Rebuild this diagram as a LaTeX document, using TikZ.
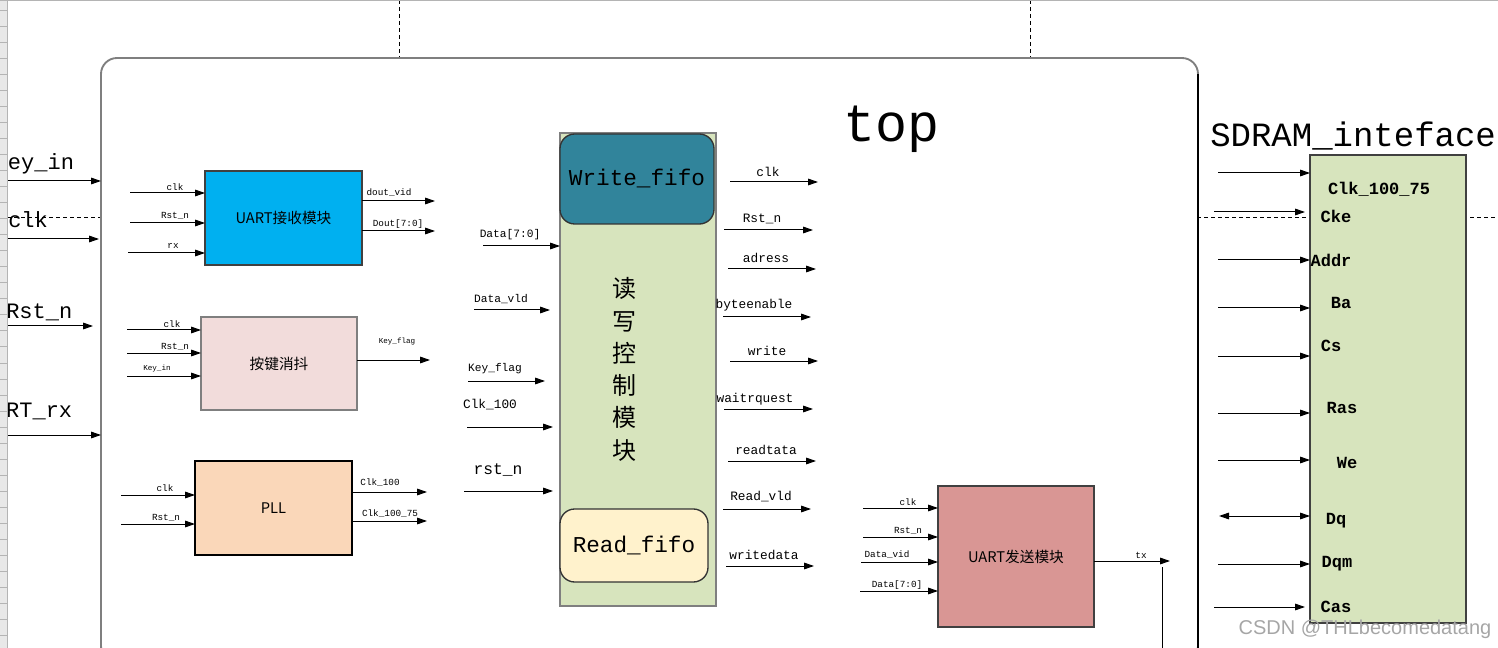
\documentclass[tikz,border=0pt]{standalone}
\usepackage{xcolor}
\usepackage{tikz}
\usepackage{fontspec}
\setmainfont{Liberation Serif}
\setmonofont{Liberation Mono}
\newfontfamily\cjk{Noto Sans CJK SC}
\newfontfamily\wmfont{Liberation Sans}
\usetikzlibrary{
  arrows.meta,
  positioning,
  calc
}
\definecolor{sdRx}{HTML}{00B0F0}
\definecolor{sdKey}{HTML}{F2DCDB}
\definecolor{sdPll}{HTML}{FAD7B9}
\definecolor{sdCtrl}{HTML}{D7E4BD}
\definecolor{sdWfifo}{HTML}{31849B}
\definecolor{sdRfifo}{HTML}{FFF2CC}
\definecolor{sdTx}{HTML}{D99694}
\definecolor{sdEdge}{HTML}{404040}
\definecolor{sdFrame}{HTML}{7F7F7F}
\definecolor{sdStrip}{HTML}{E8E8E8}
\definecolor{sdStripLine}{HTML}{B4B4B4}
\definecolor{sdMark}{HTML}{A6A6A6}
\tikzset{
  sdnode/.style={
    draw, inner sep=0pt, outer sep=0pt, line width=1pt
  },
  sdblock/.style={sdnode, draw=sdEdge, minimum width=117.75pt, minimum height=70.5pt,
    font=\cjk\fontsize{11}{13}\selectfont},
  fifobox/.style={sdnode, draw=black!80, rounded corners=11pt,
    font=\ttfamily\fontsize{17}{19}\selectfont},
  topframe/.style={sdnode, draw=sdFrame, fill=white, line width=1.4pt, rounded corners=12pt},
  toptitle/.style={inner sep=0pt, font=\ttfamily\fontsize{40}{44}\selectfont},
  sdtitle/.style={inner sep=0pt, font=\ttfamily\fontsize{25.5}{28}\selectfont},
  vlbl/.style={inner sep=0pt, align=center, font=\cjk\fontsize{18}{24.2}\selectfont},
  sig/.style={-{Triangle[length=7.5pt,width=5pt]}, line width=0.75pt},
  bisig/.style={{Triangle[length=7.5pt,width=5pt]}-{Triangle[length=7.5pt,width=5pt]}, line width=0.75pt},
  wire/.style={line width=0.75pt},
  guide/.style={dash pattern=on 3pt off 2.25pt, line width=0.6pt},
  portlbl/.style={inner sep=0pt, anchor=base west, font=\ttfamily\fontsize{16.5}{18}\selectfont},
  pinlbl/.style={inner sep=0pt, font=\ttfamily\fontsize{7}{8}\selectfont},
  tinylbl/.style={inner sep=0pt, font=\ttfamily\fontsize{5.7}{7}\selectfont},
  midlbl/.style={inner sep=0pt, font=\ttfamily\fontsize{8.4}{10}\selectfont},
  buslbl/.style={inner sep=0pt, font=\ttfamily\fontsize{9.6}{11}\selectfont},
  biglbl/.style={inner sep=0pt, font=\ttfamily\fontsize{12.2}{14}\selectfont},
  sdlbl/.style={inner sep=0pt, font=\ttfamily\bfseries\fontsize{12.75}{14}\selectfont},
  wmark/.style={inner sep=0pt, text=sdMark, font=\wmfont\fontsize{15}{17}\selectfont}
}

\begin{document}
\begin{tikzpicture}[x=0.75pt, y=-0.75pt]
  \useasboundingbox (0,0) rectangle (1498,648);
  \clip (0,0) rectangle (1498,648);

  % sheet guides behind the frame
  \draw[guide] (399,0) -- (399,648); \draw[guide] (1030,0) -- (1030,648);
  \draw[guide] (0,217) -- (1498,217);

  % top level frame
  \node[topframe, anchor=north west, minimum width=822.75pt, minimum height=453pt] (top) at (101,58) {};
  \draw[line width=0.9pt] (top.north east) ++(0,16) -- (top.south east);
  \node[toptitle] (toplbl) at (891,129) {top};
  \node[sdtitle, anchor=base west] (sdtitle) at (1210,147) {SDRAM\_inteface};

  % top level ports
  \coordinate (kin0) at (0,181); \draw[sig] (kin0) -- (kin0 -| top.west);
  \coordinate (pclk0) at (0,239); \coordinate (pclk1) at (99,239); \draw[sig] (pclk0) -- (pclk1);
  \coordinate (prst0) at (0,326); \coordinate (prst1) at (93,326); \draw[sig] (prst0) -- (prst1);
  \coordinate (prx0) at (0,435); \draw[sig] (prx0) -- (prx0 -| top.west);
  \node[portlbl] (kinL) at (-5.5,170) {Key\_in};
  \node[portlbl] (pclkL) at (8,228) {clk};
  \node[portlbl] (prstL) at (6,319) {Rst\_n};
  \node[portlbl] (prxL) at (-20.5,417) {UART\_rx};

  % blocks
  \node[sdblock, fill=sdRx] (urx) at (283.5,218) {UART接收模块};
  \node[sdblock, fill=sdKey, draw=sdFrame, minimum width=117pt, minimum height=69.75pt] (deb) at (279,363.5) {按键消抖};
  \node[sdblock, fill=sdPll, draw=black] (pll) at (273.5,508) {PLL};
  \node[sdblock, fill=sdCtrl, draw=sdFrame, minimum width=117pt, minimum height=354.75pt] (ctrl) at (638,369.5) {};
  \node[fifobox, fill=sdWfifo, minimum width=115.5pt, minimum height=67.5pt] (wfifo) at (637,179) {Write\_fifo};
  \node[fifobox, fill=sdRfifo, minimum width=111pt, minimum height=54.75pt] (rfifo) at (634,545.5) {Read\_fifo};
  \node[vlbl] (ctrlL) at (624,369.5) {读\\写\\控\\制\\模\\块};
  \node[sdblock, fill=sdTx, minimum width=117pt, minimum height=105.75pt] (utx) at (1016,556.5) {UART发送模块};
  \node[sdblock, fill=sdCtrl, minimum width=117pt, minimum height=351pt] (sdram) at (1388,389) {};

  % UART receive
  \coordinate (rxclk) at (130,193); \draw[sig] (rxclk) -- (rxclk -| urx.west) node[pinlbl] (rxclkL) at (175,187) {clk};
  \coordinate (rxrst) at (130,223); \draw[sig] (rxrst) -- (rxrst -| urx.west) node[pinlbl] (rxrstL) at (175,216) {Rst\_n};
  \coordinate (rxrx) at (128,253); \draw[sig] (rxrx) -- (rxrx -| urx.west) node[pinlbl] (rxrxL) at (173,246) {rx};
  \coordinate (rxvld) at (435,201); \draw[sig] (rxvld -| urx.east) -- (rxvld) node[pinlbl] (rxvldL) at (389,193) {dout\_vid};
  \coordinate (rxdat) at (435,231); \draw[sig] (rxdat -| urx.east) -- (rxdat) node[pinlbl] (rxdatL) at (398,224) {Dout[7:0]};

  % key debounce
  \coordinate (dbclk) at (127,330); \draw[sig] (dbclk) -- (dbclk -| deb.west) node[pinlbl] (dbclkL) at (172,324) {clk};
  \coordinate (dbrst) at (127,353); \draw[sig] (dbrst) -- (dbrst -| deb.west) node[pinlbl] (dbrstL) at (175,347) {Rst\_n};
  \coordinate (dbkey) at (127,376); \draw[sig] (dbkey) -- (dbkey -| deb.west) node[tinylbl] (dbkeyL) at (157,369) {Key\_in};
  \coordinate (dbflag) at (430,360); \draw[sig] (dbflag -| deb.east) -- (dbflag) node[tinylbl] (dbflagL) at (397,342) {Key\_flag};

  % PLL
  \coordinate (plclk) at (121,495); \draw[sig] (plclk) -- (plclk -| pll.west) node[pinlbl] (plclkL) at (165,488) {clk};
  \coordinate (plrst) at (121,524); \draw[sig] (plrst) -- (plrst -| pll.west) node[pinlbl] (plrstL) at (166,518) {Rst\_n};
  \coordinate (plc100) at (427,492); \draw[sig] (plc100 -| pll.east) -- (plc100) node[pinlbl] (plc100L) at (380,483) {Clk\_100};
  \coordinate (plc75) at (427,521); \draw[sig] (plc75 -| pll.east) -- (plc75) node[pinlbl] (plc75L) at (390,514) {Clk\_100\_75};

  % control block inputs
  \coordinate (cdat) at (483,246); \draw[sig] (cdat) -- (cdat -| ctrl.west) node[midlbl] (cdatL) at (510,235) {Data[7:0]};
  \coordinate (cvld0) at (474,310); \coordinate (cvld1) at (550,310); \draw[sig] (cvld0) -- (cvld1) node[midlbl] (cvldL) at (501,299) {Data\_vld};
  \coordinate (cflag0) at (468,381); \coordinate (cflag1) at (545,381); \draw[sig] (cflag0) -- (cflag1) node[midlbl] (cflagL) at (495,369) {Key\_flag};
  \coordinate (cclk0) at (467,427); \coordinate (cclk1) at (553,427); \draw[sig] (cclk0) -- (cclk1) node[buslbl] (cclkL) at (490,405) {Clk\_100};
  \coordinate (crst0) at (464,491); \coordinate (crst1) at (553,491); \draw[sig] (crst0) -- (crst1) node[biglbl] (crstL) at (498,470) {rst\_n};

  % control block outputs
  \coordinate (oclk0) at (730,182); \coordinate (oclk1) at (818,182); \draw[sig] (oclk0) -- (oclk1) node[buslbl] (oclkL) at (768,172) {clk};
  \coordinate (orst0) at (724,230); \coordinate (orst1) at (813,230); \draw[sig] (orst0) -- (orst1) node[buslbl] (orstL) at (762,219) {Rst\_n};
  \coordinate (oadr0) at (728,269); \coordinate (oadr1) at (816,269); \draw[sig] (oadr0) -- (oadr1) node[buslbl] (oadrL) at (766,258) {adress};
  \coordinate (obyte0) at (723,317); \coordinate (obyte1) at (811,317); \draw[sig] (obyte0) -- (obyte1) node[buslbl] (obyteL) at (754,305) {byteenable};
  \coordinate (owr0) at (730,361); \coordinate (owr1) at (818,361); \draw[sig] (owr0) -- (owr1) node[buslbl] (owrL) at (767,351) {write};
  \coordinate (owait0) at (724,409); \coordinate (owait1) at (813,409); \draw[sig] (owait0) -- (owait1) node[buslbl] (owaitL) at (755,399) {waitrquest};
  \coordinate (ord0) at (728,461); \coordinate (ord1) at (816,461); \draw[sig] (ord0) -- (ord1) node[buslbl] (ordL) at (766,450) {readtata};
  \coordinate (orv0) at (723,509); \coordinate (orv1) at (811,509); \draw[sig] (orv0) -- (orv1) node[buslbl] (orvL) at (761,497) {Read\_vld};
  \coordinate (owd0) at (726,566); \coordinate (owd1) at (814,566); \draw[sig] (owd0) -- (owd1) node[buslbl] (owdL) at (764,555) {writedata};

  % UART send
  \coordinate (txclk) at (863,508); \draw[sig] (txclk) -- (txclk -| utx.west) node[pinlbl] (txclkL) at (908,502) {clk};
  \coordinate (txrst) at (863,537); \draw[sig] (txrst) -- (txrst -| utx.west) node[pinlbl] (txrstL) at (908,531) {Rst\_n};
  \coordinate (txvld) at (861,562); \draw[sig] (txvld) -- (txvld -| utx.west) node[pinlbl] (txvldL) at (887,555) {Data\_vid};
  \coordinate (txdat) at (860,591); \draw[sig] (txdat) -- (txdat -| utx.west) node[pinlbl] (txdatL) at (897,585) {Data[7:0]};
  \coordinate (txout) at (1170,561); \draw[sig] (txout -| utx.east) -- (txout) node[pinlbl] (txoutL) at (1141,555) {tx};
  \coordinate (txdn0) at (1162,567); \coordinate (txdn1) at (1162,648); \draw[wire] (txdn0) -- (txdn1);

  % SDRAM interface
  \coordinate (sdclk) at (1218,173); \draw[sig] (sdclk) -- (sdclk -| sdram.west);
  \coordinate (sdcke0) at (1214,212); \coordinate (sdcke1) at (1305,212); \draw[sig] (sdcke0) -- (sdcke1);
  \coordinate (sdadr) at (1218,260); \draw[sig] (sdadr) -- (sdadr -| sdram.west);
  \coordinate (sdba) at (1218,308); \draw[sig] (sdba) -- (sdba -| sdram.west);
  \coordinate (sdcs) at (1218,356); \draw[sig] (sdcs) -- (sdcs -| sdram.west);
  \coordinate (sdras) at (1218,413); \draw[sig] (sdras) -- (sdras -| sdram.west);
  \coordinate (sdwe) at (1218,460); \draw[sig] (sdwe) -- (sdwe -| sdram.west);
  \coordinate (sddq) at (1219,516); \draw[bisig] (sddq) -- (sddq -| sdram.west);
  \coordinate (sddqm) at (1218,564); \draw[sig] (sddqm) -- (sddqm -| sdram.west);
  \coordinate (sdcas0) at (1214,607); \coordinate (sdcas1) at (1305,607); \draw[sig] (sdcas0) -- (sdcas1);
  \node[sdlbl] (sdclkL) at (1379,189) {Clk\_100\_75};
  \node[sdlbl] (sdckeL) at (1336,216) {Cke};
  \node[sdlbl] (sdadrL) at (1331,260) {Addr};
  \node[sdlbl] (sdbaL) at (1341,303) {Ba};
  \node[sdlbl] (sdcsL) at (1331,346) {Cs};
  \node[sdlbl] (sdrasL) at (1342,408) {Ras};
  \node[sdlbl] (sdweL) at (1347,463) {We};
  \node[sdlbl] (sddqL) at (1336,521) {Dq};
  \node[sdlbl] (sddqmL) at (1337,564) {Dqm};
  \node[sdlbl] (sdcasL) at (1336,607) {Cas};

  % sheet row headers
  \fill[sdStrip] (0,0) rectangle (7,648);
  \foreach \y in {11,27,...,651} \draw[sdStripLine, line width=0.75pt] (0,\y) -- (7,\y);
  \draw[sdStripLine, line width=1pt] (7.5,0) -- (7.5,648) (0,0.6) -- (1498,0.6);

  \node[wmark] (wm) at (1365,629) {CSDN @THLbecomedatang};
\end{tikzpicture}
\end{document}
